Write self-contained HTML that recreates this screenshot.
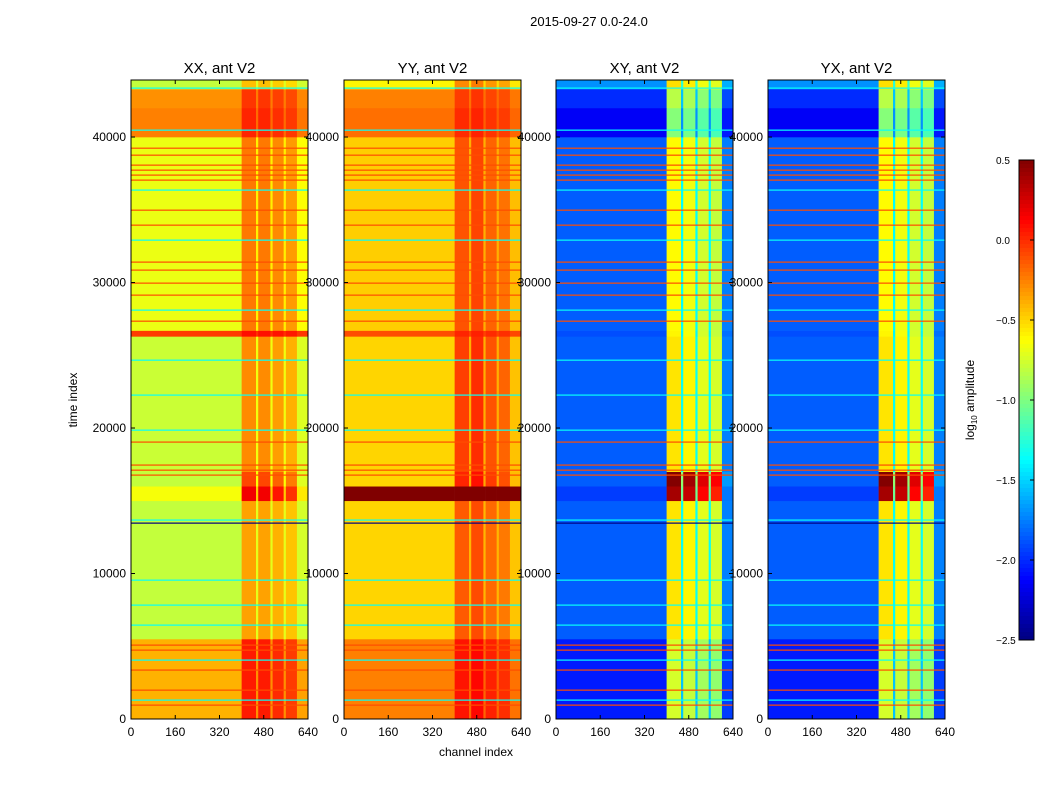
<!DOCTYPE html>
<html><head><meta charset="utf-8"><style>
body{margin:0;background:#fff;font-family:"Liberation Sans",sans-serif}
svg text{font-family:"Liberation Sans",sans-serif}
</style></head><body>
<svg id="fig" width="1050" height="800" xmlns="http://www.w3.org/2000/svg">
<rect width="1050" height="800" fill="#fff"/>
<text x="589" y="26" font-size="13" text-anchor="middle">2015-09-27 0.0-24.0</text>
<text x="476" y="756" font-size="12" text-anchor="middle">channel index</text>
<text x="77" y="400" font-size="12" text-anchor="middle" transform="rotate(-90 77 400)">time index</text>
<g id="panels"></g>
<g id="cbar"></g>
</svg>
<script>
const panelTitles = ["XX, ant V2","YY, ant V2","XY, ant V2","YX, ant V2"];
const rowEdges = [0,5500,15000,16000,17000,26300,26700,40000,42000,43300,43920];
const colEdges = [0,400,452,460,504,512,552,560,600,640];
const rowBaseXX = [-0.4,-0.8,-0.65,-0.8,-0.78,-0.05,-0.68,-0.25,-0.3,-0.8];
const rowGainXX = [1,1,1.8,1.6,1.1,0.3,1,0.6,0.6,0.8];
const rowBaseYY = [-0.25,-0.5,0.5,-0.5,-0.5,-0.1,-0.48,-0.2,-0.25,-0.6];
const rowGainYY = [0.8,0.9,0,1.3,1.1,0.3,0.9,0.5,0.5,0.8];
const rowBaseXY = [-2.05,-1.85,-1.95,-1.85,-1.85,-1.9,-1.85,-2.15,-2.0,-1.7];
const rowGainXY = [1,1,1.8,1.8,1,1,0.95,0.9,0.9,0.9];
const rowBaseYX = [-2.05,-1.85,-1.95,-1.85,-1.85,-1.9,-1.85,-2.15,-2.0,-1.7];
const rowGainYX = [1,1,1.8,1.8,1,1,0.95,0.9,0.9,0.9];
const colOffXX = [0,0.45,0.1,0.45,0.1,0.4,0.1,0.35,0.05];
const colOffYY = [0,0.4,0.1,0.45,0.1,0.35,0.1,0.3,0.05];
const colOffXY = [0,1.3,0.5,1.25,0.5,1.15,0.5,1.1,0.1];
const colOffYX = [0,1.3,0.5,1.25,0.5,1.15,0.5,1.1,0.1];
const redLines = [39240,38760,38075,37730,37390,37045,34980,33950,31410,30860,29965,29140,27350,19040,17460,17110,16770,5085,4740,3370,1990,960];
const redLineVal = -0.1;
const cyanLines = [43370,40480,36360,32920,28110,24670,22270,19860,13680,9550,7835,6460,4055,1305];
const cyanLineVal = -1.35;
const blueLines = [13470];
const blueLineVal = -2.5;
const xTicks = [0,160,320,480,640];
const yTicks = [0,10000,20000,30000,40000];
const cbTicks = [0.5,0.0,-0.5,-1.0,-1.5,-2.0,-2.5];

const panelsLeft = [131,344,556,768], PW=177, PTOP=80, PBOT=719;
const T_MAX=43920, C_MAX=640, VMIN=-2.5, VMAX=0.5;
const rowBases=[rowBaseXX,rowBaseYY,rowBaseXY,rowBaseYX];
const rowGains=[rowGainXX,rowGainYY,rowGainXY,rowGainYX];
const colOffs=[colOffXX,colOffYY,colOffXY,colOffYX];
const NS="http://www.w3.org/2000/svg";
function jet(v){
  let t=(v-VMIN)/(VMAX-VMIN); t=Math.max(0,Math.min(1,t));
  const f=(x)=>Math.max(0,Math.min(1,x));
  const r=f(Math.min(4*t-1.5,-4*t+4.5)), g=f(Math.min(4*t-0.5,-4*t+3.5)), b=f(Math.min(4*t+0.5,-4*t+2.5));
  return `rgb(${Math.round(r*255)},${Math.round(g*255)},${Math.round(b*255)})`;
}
function el(tag,attrs,parent){const e=document.createElementNS(NS,tag);for(const k in attrs)e.setAttribute(k,attrs[k]);parent.appendChild(e);return e;}
const yS=t=>PBOT-(t/T_MAX)*(PBOT-PTOP);
const cbY=v=>160+(VMAX-v)/(VMAX-VMIN)*480;
const G=document.getElementById('panels');
panelsLeft.forEach((L,p)=>{
  const xS=c=>L+c/C_MAX*PW;
  const g=el('g',{},G);
  
  
  for(let r=0;r<rowEdges.length-1;r++){
    for(let c=0;c<colEdges.length-1;c++){
      const v=rowBases[p][r]+colOffs[p][c]*rowGains[p][r];
      const x0=xS(colEdges[c]),x1=xS(colEdges[c+1]),y0=yS(rowEdges[r+1]),y1=yS(rowEdges[r]);
      const rc=el('rect',{x:x0,y:y0,width:x1-x0+0.3,height:y1-y0+0.3,fill:jet(v)},g);
      
      
    }
  }
  const drawLines=(arr,val,name)=>arr.forEach(t=>{
    const ln=el('rect',{x:L,y:yS(t)-0.5,width:PW,height:1.2,fill:jet(val)},g);
    
    
  });
  drawLines(cyanLines,cyanLineVal,'cyan-line');
  drawLines(redLines,redLineVal,'red-line');
  drawLines(blueLines,blueLineVal,'blue-line');
  const fr=el('rect',{x:L,y:PTOP,width:PW,height:PBOT-PTOP,fill:'none',stroke:'#000','stroke-width':1},g);
  
  
  const tt=el('text',{x:L+PW/2,y:73,'font-size':15,'text-anchor':'middle'},g);
  tt.textContent=panelTitles[p];
  
  
  xTicks.forEach(c=>{
    el('line',{x1:xS(c),x2:xS(c),y1:PBOT,y2:PBOT-4,stroke:'#000'},g);
    el('line',{x1:xS(c),x2:xS(c),y1:PTOP,y2:PTOP+4,stroke:'#000'},g);
    const t=el('text',{x:xS(c),y:736,'font-size':12,'text-anchor':'middle'},g);
    t.textContent=c;
    
    
  });
  yTicks.forEach(v=>{
    el('line',{x1:L,x2:L+4,y1:yS(v),y2:yS(v),stroke:'#000'},g);
    el('line',{x1:L+PW,x2:L+PW-4,y1:yS(v),y2:yS(v),stroke:'#000'},g);
    const t=el('text',{x:L-5,y:yS(v)+4,'font-size':12,'text-anchor':'end'},g);
    t.textContent=v;
    
    
  });
});
const CB=document.getElementById('cbar');
for(let i=0;i<120;i++){
  const v0=VMAX-(i)*(VMAX-VMIN)/120, v1=VMAX-(i+1)*(VMAX-VMIN)/120;
  const r=el('rect',{x:1019,y:cbY(v0),width:15,height:cbY(v1)-cbY(v0)+0.5,fill:jet((v0+v1)/2)},CB);
  
  
}
const cf=el('rect',{x:1019,y:160,width:15,height:480,fill:'none',stroke:'#000'},CB);


cbTicks.forEach(v=>{
  el('line',{x1:1030,x2:1034,y1:cbY(v),y2:cbY(v),stroke:'#000'},CB);
  const t=el('text',{x:996,y:cbY(v)+4,'font-size':10},CB);
  t.textContent=(v<0?'\u2212':'')+Math.abs(v).toFixed(1);
  
  
});
const cl=el('text',{x:974,y:400,'font-size':12,'text-anchor':'middle',transform:'rotate(-90 974 400)'},CB);
cl.innerHTML='log<tspan font-size="8" dy="3">10</tspan><tspan dy="-3"> amplitude</tspan>';


</script>
</body></html>
